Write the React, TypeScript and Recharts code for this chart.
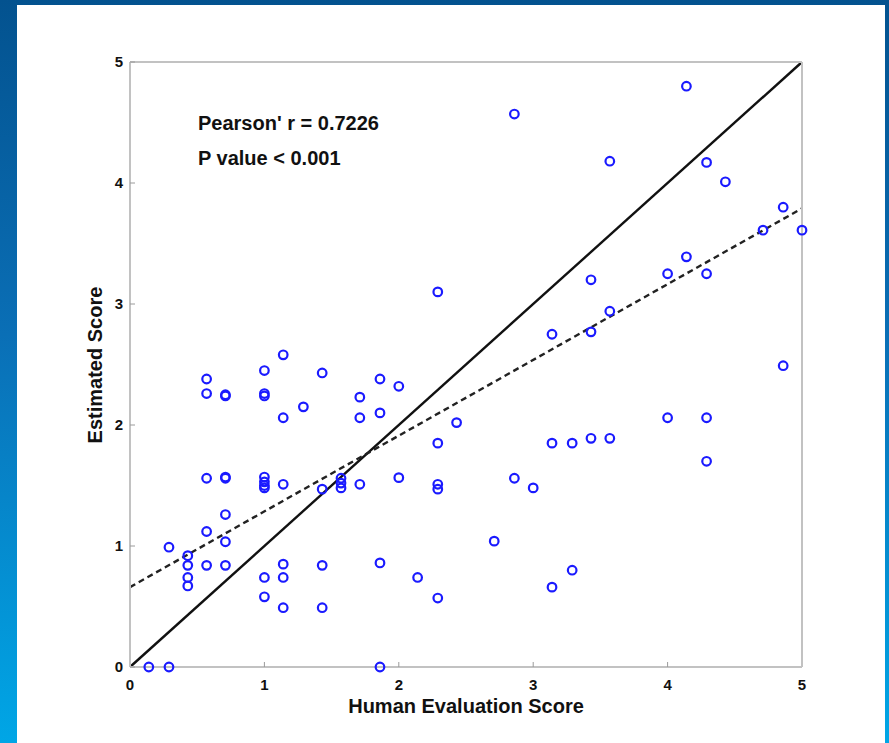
import React from "react";
import { ScatterChart, Scatter, XAxis, YAxis, ReferenceLine } from "recharts";

// human evaluation score (x) and estimated score (y) for each sample
const humanScores = [
  0.14, 0.29, 1.86, 1.14, 1.0, 1.43, 0.57, 1.86, 2.0, 0.57,
  0.71, 0.71, 1.0, 1.0, 1.71, 1.29, 1.14, 1.71, 1.86, 2.43,
  2.29, 0.57, 0.71, 0.71, 1.0, 1.0, 1.0, 1.0, 1.14, 1.43,
  1.57, 1.57, 1.57, 1.71, 2.0, 2.29, 2.29, 0.71, 0.57, 0.71,
  0.29, 0.43, 0.43, 0.57, 0.71, 0.43, 0.43, 1.14, 1.0, 1.14,
  1.43, 1.86, 2.14, 1.0, 1.14, 1.43, 2.29, 4.0, 4.29, 3.14,
  3.29, 3.43, 3.57, 4.29, 2.86, 3.0, 2.71, 3.29, 3.14, 4.14,
  2.86, 3.57, 4.29, 4.43, 4.86, 4.71, 5.0, 4.14, 4.0, 4.29,
  3.43, 2.29, 3.57, 3.14, 3.43, 4.86,
];
const estimatedScores = [
  0, 0, 0, 2.58, 2.45, 2.43, 2.38, 2.38, 2.32, 2.26,
  2.25, 2.24, 2.26, 2.24, 2.23, 2.15, 2.06, 2.06, 2.1, 2.02,
  1.85, 1.56, 1.57, 1.56, 1.57, 1.53, 1.5, 1.48, 1.51, 1.47,
  1.56, 1.52, 1.48, 1.51, 1.565, 1.51, 1.47, 1.26, 1.12, 1.035,
  0.99, 0.92, 0.84, 0.84, 0.84, 0.74, 0.67, 0.85, 0.74, 0.74,
  0.84, 0.86, 0.74, 0.58, 0.49, 0.49, 0.57, 2.06, 2.06, 1.85,
  1.85, 1.89, 1.89, 1.7, 1.56, 1.48, 1.04, 0.8, 0.66, 4.8,
  4.57, 4.18, 4.17, 4.01, 3.8, 3.61, 3.61, 3.39, 3.25, 3.25,
  3.2, 3.1, 2.94, 2.75, 2.77, 2.49,
];

const axisTicks = [0, 1, 2, 3, 4, 5];

// y = x reference and the least squares fit
const identityLine = [{ x: 0, y: 0 }, { x: 5, y: 5 }];
const fitLine = [{ x: 0, y: 0.66 }, { x: 5, y: 3.79 }];

const points = humanScores.map((x, i) => ({ x, y: estimatedScores[i] }));

const FONT = "'Liberation Sans', Arial, sans-serif";
const GRAY = "#c2c2c2";

const tickStyle = { fill: "#111", fontSize: 15, fontWeight: "bold", fontFamily: FONT };

const Ring = (props: any) => (
  <circle cx={props.cx} cy={props.cy} r={4.3} fill="none" stroke="#1a1aff" strokeWidth={2.2} />
);

export default function App() {
  return (
    <div
      style={{
        position: "absolute",
        left: 0,
        top: 0,
        width: 889,
        height: 743,
        overflow: "hidden",
        background: "linear-gradient(180deg, #03528f 0%, #0a6fb6 45%, #00a6e6 100%)",
        fontFamily: FONT,
      }}
    >
      <div style={{ position: "absolute", left: 17, top: 5, width: 868, height: 738, background: "#fff" }} />

      <div style={{ position: "absolute", left: 0, top: 0 }}>
        <ScatterChart width={889} height={743} margin={{ top: 61, right: 86, bottom: 46, left: 100 }}>
          <XAxis
            xAxisId="bottom"
            type="number"
            dataKey="x"
            domain={[0, 5]}
            ticks={axisTicks}
            interval={0}
            height={30}
            tickSize={-5}
            tickMargin={17}
            tick={tickStyle}
            axisLine={{ stroke: GRAY, strokeWidth: 2 }}
            tickLine={{ stroke: "#9a9a9a" }}
          />
          <XAxis
            xAxisId="top"
            orientation="top"
            type="number"
            domain={[0, 5]}
            ticks={axisTicks}
            interval={0}
            height={1}
            tickSize={-5}
            tick={false}
            axisLine={{ stroke: GRAY, strokeWidth: 2 }}
            tickLine={{ stroke: "#9a9a9a" }}
          />
          <YAxis
            yAxisId="left"
            type="number"
            dataKey="y"
            domain={[0, 5]}
            ticks={axisTicks}
            interval={0}
            width={30}
            tickSize={-5}
            tickMargin={12}
            tick={tickStyle}
            axisLine={{ stroke: GRAY, strokeWidth: 2 }}
            tickLine={{ stroke: "#9a9a9a" }}
          />
          <YAxis
            yAxisId="right"
            orientation="right"
            type="number"
            domain={[0, 5]}
            ticks={axisTicks}
            interval={0}
            width={1}
            tickSize={-5}
            tick={false}
            axisLine={{ stroke: GRAY, strokeWidth: 2 }}
            tickLine={{ stroke: "#9a9a9a" }}
          />
          <ReferenceLine
            xAxisId="bottom"
            yAxisId="left"
            segment={identityLine}
            ifOverflow="visible"
            stroke="#111"
            strokeWidth={2.4}
          />
          <ReferenceLine
            xAxisId="bottom"
            yAxisId="left"
            segment={fitLine}
            ifOverflow="visible"
            stroke="#222"
            strokeWidth={2.4}
            strokeDasharray="6 4"
          />
          <Scatter
            data={points}
            xAxisId="bottom"
            yAxisId="left"
            shape={Ring}
            isAnimationActive={false}
          />
        </ScatterChart>
      </div>

      <div style={{ position: "absolute", left: 198, top: 113, fontSize: 20, lineHeight: "20px", fontWeight: "bold", color: "#111", whiteSpace: "nowrap" }}>
        Pearson' r = 0.7226
      </div>
      <div style={{ position: "absolute", left: 198, top: 148, fontSize: 20, lineHeight: "20px", fontWeight: "bold", color: "#111", whiteSpace: "nowrap" }}>
        P value &lt; 0.001
      </div>

      <div style={{ position: "absolute", left: 130, top: 696, width: 672, textAlign: "center", fontSize: 20, lineHeight: "20px", fontWeight: "bold", color: "#111" }}>
        Human Evaluation Score
      </div>
      <div
        style={{
          position: "absolute",
          left: -55,
          top: 355,
          width: 300,
          height: 20,
          textAlign: "center",
          fontSize: 20,
          lineHeight: "20px",
          fontWeight: "bold",
          color: "#111",
          transform: "rotate(-90deg)",
        }}
      >
        Estimated Score
      </div>
    </div>
  );
}
